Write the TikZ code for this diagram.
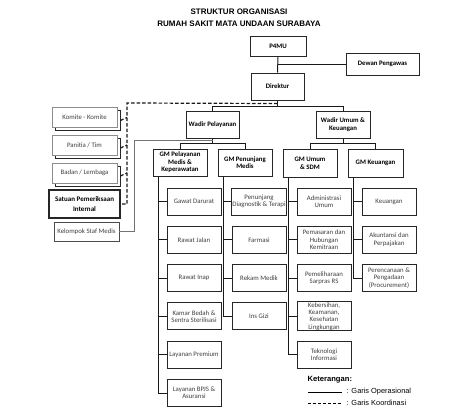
\documentclass[tikz,border=0pt]{standalone}
\usepackage{fontspec}
\setmainfont{Liberation Sans}
\newfontfamily\carl{Carlito}
\usetikzlibrary{shadows,calc}
\begin{document}
\begin{tikzpicture}[x=1pt,y=-1pt,
  every node/.style={inner sep=0.5pt},
  box/.style={draw=black!85, line width=1pt, fill=white, minimum width=54pt, minimum height=27pt, align=center,
    font=\carl\fontsize{6.8}{7.2}\selectfont, text=black!75},
  hbox/.style={box, font=\carl\bfseries\fontsize{6.8}{7.6}\selectfont, text=black},
  sbox/.style={box, draw=black!45, line width=0.7pt, minimum width=65pt, minimum height=20pt,
    copy shadow={draw=black!85, fill=white, line width=0.9pt, shadow xshift=3pt, shadow yshift=-3pt}},
  opline/.style={draw=black!90, line width=1pt},
  coline/.style={draw=black!90, line width=1.2pt, dash pattern=on 3.5pt off 2pt},
]
\useasboundingbox (0,0) rectangle (474,410);
% title
\node[font=\bfseries\fontsize{8}{9}\selectfont] (t1) at (239,12) {STRUKTUR ORGANISASI};
\node[font=\bfseries\fontsize{8}{9}\selectfont] (t2) at (239,23.5) {RUMAH SAKIT MATA UNDAAN SURABAYA};
% top
\node[hbox, minimum width=56pt, minimum height=20pt] (p4mu) at (278,46) {P4MU};
\node[hbox, minimum width=73pt, minimum height=22pt] (dewan) at (382.5,64) {Dewan Pengawas};
\node[hbox, minimum width=53pt] (dir) at (277.5,86.5) {Direktur};
\node[hbox, minimum width=53pt] (wp) at (212.5,124.5) {Wadir Pelayanan};
\node[hbox] (wu) at (343,124.5) {Wadir Umum \&\\Keuangan};
% GM
\node[hbox] (gm1) at (180,162.5) {GM Pelayanan\\Medis \&\\Keperawatan};
\node[hbox] (gm2) at (245,162.5) {GM Penunjang\\Medis};
\node[hbox, minimum height=28pt] (gm3) at (310,163) {GM Umum\\\& SDM};
\node[hbox, minimum width=55pt, minimum height=28pt] (gm4) at (375.5,163) {GM Keuangan};
% children column 1
\node[box] (a1) at (194,201.5) {Gawat Darurat};
\node[box] (a2) at (194,239.8) {Rawat Jalan};
\node[box] (a3) at (194,278.1) {Rawat Inap};
\node[box] (a4) at (194,316.4) {Kamar Bedah \&\\Sentra Sterilisasi};
\node[box] (a5) at (194,354.7) {Layanan Premium};
\node[box] (a6) at (194,393) {Layanan BPJS \&\\Asuransi};
% column 2
\node[box] (b1) at (259,201.5) {Penunjang\\Diagnostik \& Terapi};
\node[box] (b2) at (259,239.8) {Farmasi};
\node[box] (b3) at (259,278.1) {Rekam Medik};
\node[box] (b4) at (259,316.4) {Ins Gizi};
% column 3
\node[box] (c1) at (324,201.5) {Administrasi\\Umum};
\node[box] (c2) at (324,239.8) {Pemasaran dan\\Hubungan\\Kemitraan};
\node[box] (c3) at (324,278.1) {Pemeliharaan\\Sarpras RS};
\node[box, font=\carl\fontsize{6.8}{7.4}\selectfont] (c4) at (324,316.4) {Kebersihan,\\Keamanan,\\Kesehatan\\Lingkungan};
\node[box] (c5) at (324,354.7) {Teknologi\\Informasi};
% column 4
\node[box] (d1) at (389,201.5) {Keuangan};
\node[box] (d2) at (389,239.8) {Akuntansi dan\\Perpajakan};
\node[box] (d3) at (389,278.1) {Perencanaan \&\\Pengadaan\\(Procurement)};
% left boxes
\node[sbox] (k1) at (84.5,117.5) {Komite - Komite};
\node[sbox] (k2) at (84.5,145) {Panitia / Tim};
\node[sbox] (k3) at (84.5,173) {Badan / Lembaga};
\node[hbox, line width=1.3pt, minimum width=71pt, minimum height=28pt, font=\carl\bfseries\fontsize{7}{10}\selectfont] (spi) at (84.5,204) {Satuan Pemeriksaan\\Internal};
\node[box, draw=black!70, line width=0.8pt, minimum width=65pt, minimum height=19pt] (ksm) at (86.5,231.5) {Kelompok Staf Medis};
% operational lines
\draw[opline] (p4mu.south) -- (dir.north);
\coordinate (j1) at ($(p4mu.south)!0.47!(dir.north)$);
\draw[opline] (j1) -- (j1 -| dewan.west);
\coordinate (j2) at ($(dir.south)+(0,6)$);
\draw[opline] (wp.north) |- (j2) -| (wu.north);
\draw[opline] (dir.south) -- (j2);
\coordinate (j3) at ($(wp.south)+(0,5)$);
\draw[opline] (wp.south) -- (j3);
\draw[opline] (gm1.north) |- (j3) -| (gm2.north);
\coordinate (j4) at ($(wu.south)+(0,5)$);
\draw[opline] (wu.south) -- (j4);
\draw[opline] (gm3.north) |- (j4) -| (gm4.north);
% columns
\coordinate (v1) at ($(gm1.south west)+(6,0)$);
\draw[opline] (v1) |- (a6.west);
\foreach \n in {a1,a2,a3,a4,a5} \draw[opline] (\n.west) -- (\n.west -| v1);
\coordinate (v2) at ($(gm2.south west)+(6,0)$);
\draw[opline] (v2) |- (b4.west);
\foreach \n in {b1,b2,b3} \draw[opline] (\n.west) -- (\n.west -| v2);
\coordinate (v3) at ($(gm3.south west)+(6,0)$);
\draw[opline] (v3) |- (c5.west);
\foreach \n in {c1,c2,c3,c4} \draw[opline] (\n.west) -- (\n.west -| v3);
\coordinate (v4) at ($(gm4.south west)+(6,0)$);
\draw[opline] (v4) |- (d3.west);
\foreach \n in {d1,d2} \draw[opline] (\n.west) -- (\n.west -| v4);
% kelompok staf medis
\coordinate (j5) at ($(wp.south)+(0,2)$);
\draw[draw=black!55, line width=0.6pt] (ksm.east) -- ++(15,0) |- (j5);
% coordination (dashed)
\coordinate (j6) at ($(dir.south)+(0,3)$);
\coordinate (dl) at (127,103);
\draw[coline] (j6) -- (dl) |- (spi.east);
\foreach \n in {k1,k2,k3} \draw[coline] ($(\n.east)+(3,3)$) -- (\n.east -| dl);
% legend
\node[anchor=west, font=\bfseries\fontsize{7.6}{9}\selectfont] (leg) at (307,380) {Keterangan:};
\coordinate (l1) at (308,392);
\coordinate (l2) at (342,392);
\coordinate (l3) at (308,403);
\coordinate (l4) at (342,403);
\draw[line width=1pt] (l1) -- (l2);
\draw[line width=1pt, dash pattern=on 3pt off 2pt] (l3) -- (l4);
\node[anchor=west, font=\fontsize{7.4}{9}\selectfont] (lt1) at (346,392) {: Garis Operasional};
\node[anchor=west, font=\fontsize{7.4}{9}\selectfont] (lt2) at (346,403) {: Garis Koordinasi};
\end{tikzpicture}
\end{document}
